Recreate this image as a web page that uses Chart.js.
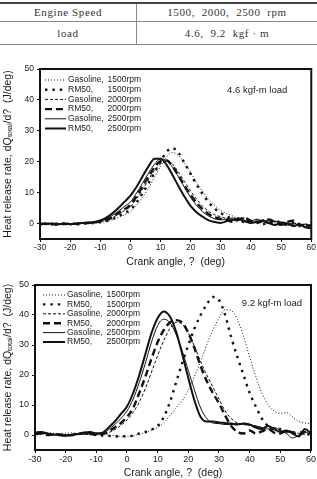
<!DOCTYPE html>
<html>
<head>
<meta charset="utf-8">
<script src="https://cdn.jsdelivr.net/npm/chart.js@4/dist/chart.umd.min.js"></script>
<style>
  body { margin: 0; width: 317px; height: 479px; background: #fff; position: relative; overflow: hidden; }
  table { position: absolute; top: 2px; left: 0; width: 317px; border-collapse: collapse;
          font-family: 'Liberation Serif', 'DejaVu Serif', serif; font-size: 11px; color: #333; letter-spacing: 0.6px; }
  table { border-top: 2px solid #444; }
  td { text-align: center; border-bottom: 1px solid #888; padding: 0; font-weight: normal; }
  td:first-child { width: 136px; border-right: 1px solid #888; }
  .r1 { height: 18px; }
  .r2 { height: 23px; }
  .box { position: absolute; left: 0; }
</style>
</head>
<body>
<table>
  <tr class="r1"><td>Engine Speed</td><td>1500,&nbsp; 2000,&nbsp; 2500&nbsp; rpm</td></tr>
  <tr class="r2"><td>load</td><td>4.6,&nbsp; 9.2&nbsp; kgf · m</td></tr>
</table>
<div class="box" style="top:46px"><canvas id="c1" width="317" height="222"></canvas></div>
<div class="box" style="top:270px"><canvas id="c2" width="317" height="209"></canvas></div>
<script>
// crank angle (deg), same grid for both plots
const angle = [-30, -28, -26, -24, -22, -20, -18, -16, -14, -12, -10, -8, -6, -4, -2, 0, 2, 4, 6, 8, 10, 12, 14, 16, 18, 20, 22, 24, 26, 28, 30, 32, 34, 36, 38, 40, 42, 44, 46, 48, 50, 52, 54, 56, 58, 60];

const seriesNames = ['Gasoline, 1500rpm', 'RM50, 1500rpm', 'Gasoline, 2000rpm', 'RM50, 2000rpm', 'Gasoline, 2500rpm', 'RM50, 2500rpm'];

// 4.6 kgf-m load
const gas1500_46 = [0, -0.1, 0.1, 0, -0.2, 0, 0.1, 0, 0.1, 0.2, 0.4, 0.7, 1.2, 2.0, 2.8, 3.8, 5.8, 8.5, 11.5, 15, 18.5, 21.5, 23, 22, 19.5, 16.5, 13.2, 10.3, 7.8, 5.8, 4.2, 3.2, 2.4, 1.6, 1.9, 1.1, 0.5, 1.2, 0.8, 0.2, 0.5, -0.2, 0.3, -0.5, 0, -0.8];
const rm1500_46 = [-0.3, 0, -0.2, -0.4, 0, -0.2, -0.3, 0, 0, 0.2, 0.4, 0.8, 1.4, 2.4, 3.4, 4.5, 6.8, 9.8, 13, 16.5, 20, 23.2, 24.4, 22.8, 19.5, 16, 12.5, 9.5, 6.8, 4.8, 3.4, 2.3, 1.5, 0.8, 0.5, 1.0, 0.5, -0.2, 0.5, 0.8, 0.2, -0.5, -0.2, -0.8, -0.5, -1.0];
const gas2000_46 = [0, -0.2, 0.1, -0.1, 0, -0.3, 0, 0, 0.2, 0.3, 0.6, 1.0, 1.8, 3.0, 4.2, 5.5, 8, 11, 14.2, 17.2, 19.3, 20.1, 19.2, 16.5, 13.5, 10.5, 7.8, 5.6, 3.9, 2.8, 2.2, 1.6, 1.2, 2.0, 1.5, 0.5, 1.2, 0.8, -0.2, 0.6, 0.2, -0.6, 0.2, -0.4, -1.0, -0.6];
const rm2000_46 = [-0.2, 0, -0.3, 0, -0.2, 0, -0.1, 0.1, 0.2, 0.3, 0.7, 1.2, 2.0, 3.4, 4.6, 6.0, 8.8, 12, 15.2, 18.2, 20.2, 20.4, 18.5, 15.4, 12.2, 9.2, 6.6, 4.6, 3.0, 2.0, 1.5, 1.2, 0.5, 1.3, 1.8, 0.8, 0.2, 0.9, 1.3, 0.4, -0.4, 0.5, 0.9, -0.2, -0.8, -0.5];
const gas2500_46 = [0, -0.1, 0, -0.2, 0.1, -0.1, 0, 0.1, 0.2, 0.4, 0.8, 1.5, 2.6, 4.0, 5.5, 7.0, 9.8, 13, 16.3, 19.2, 20.9, 20.3, 18.2, 15, 11.6, 8.4, 5.8, 3.8, 2.4, 1.5, 1.2, 1.5, 1.8, 1.2, 0.5, 0.8, 1.4, 0.6, 0, 0.8, 0.2, -0.5, 0.3, -0.6, -0.2, -1.0];
const rm2500_46 = [0, -0.2, 0, -0.3, 0, -0.2, 0, 0.2, 0.3, 0.5, 1.0, 1.9, 3.3, 5.0, 7.0, 9.0, 11.8, 15.2, 18.5, 21.0, 21.0, 19.0, 15.6, 12.0, 8.6, 5.6, 3.6, 2.2, 1.0, 0.5, 0.2, 0.8, 1.2, 1.5, 0.8, 0.2, 0.6, 1.0, 0.2, -0.5, 0.3, 0, -0.8, -0.3, -1.2, -1.5];

// 9.2 kgf-m load
const gas1500_92 = [0.8, 0.5, 0.8, 0.6, 0.5, 0.6, 0.7, 0.5, 0.6, 0.4, 0.2, 0.3, 0, -0.2, -0.5, -0.6, -0.3, 0.3, 0.8, 1.5, 2.5, 4, 6.5, 9, 11.5, 15, 19.5, 24.5, 30, 35, 39, 41.8, 41.5, 38.5, 33, 26, 19.5, 14, 10, 8, 7.2, 7.5, 6, 4.5, 4, 3.8];
const rm1500_92 = [0.5, 0.8, 0.3, 0, 0.2, -0.2, 0, 0.3, 0.5, 0.3, 0, -0.2, -0.3, -0.5, -0.3, -0.5, -0.2, 0.5, 1, 1.8, 3, 6, 11, 17.5, 24, 30, 35.5, 40, 43.5, 46, 45, 40, 32.5, 26, 20, 14, 9.5, 5.5, 3, 2, 2, 1.2, 0.5, 1, 0.5, 0];
const gas2000_92 = [0, 0.3, 0.5, 0.2, 0.4, 0, 0.2, 0.5, 0.3, 0.2, 0, 0.2, 0.8, 1.8, 3.2, 5, 7.5, 11, 15.5, 21, 26.5, 31.5, 35.5, 37.5, 37, 34, 29.5, 24.5, 20, 16, 12, 8, 5.5, 4, 3.5, 3.5, 3, 2.5, 2.8, 2.2, 1.5, 0.8, 1.2, 0.5, 0.2, 0.5];
const rm2000_92 = [0.3, 0.5, 0, 0.2, 0, -0.2, 0, 0.3, 0.5, 0.3, 0.2, 0.3, 1.2, 2.5, 4, 6, 9, 14, 19.5, 25.5, 31, 35, 37.5, 38.3, 37.5, 34, 29, 23, 18, 14, 10.5, 6.5, 3, 1, 0.5, 1.5, 0.5, 1.2, 2, 0.8, 0.5, 1.5, 0.8, 0, 1, 0.5];
const gas2500_92 = [0.5, 0.8, 0.3, 0, 0.3, 0, 0.2, 0.5, 0.8, 0.5, 0.3, 0.5, 1.8, 3.5, 5.5, 8, 12, 17.5, 24, 31, 36.5, 38.6, 37.5, 33.5, 28, 21.5, 15, 9, 5.5, 4, 3.8, 3.5, 3.5, 3.8, 3.5, 3.2, 3, 2.5, 2, 2.5, 1.5, 0.5, -1, 0, 1, 0];
const rm2500_92 = [0.8, 1.0, 0.5, 0.2, 0, -0.2, 0, 0.3, 0.8, 1.0, 0.6, 0.8, 2.5, 4.5, 7, 9.5, 14, 20, 27, 34, 39, 41.2, 39.5, 34.5, 27, 19, 11.5, 6, 4.5, 4.5, 4.2, 4, 3.8, 3.5, 3.8, 3.5, 2.5, 2, 3, 2, 1, 1.5, 0.5, -0.5, 2, 0.5];

const xTicks = [-30, -20, -10, 0, 10, 20, 30, 40, 50, 60];
const yTicks = [0, 10, 20, 30, 40, 50];

// line look per series: thin dotted, thick dotted, thin dashed, thick dashed, thin solid, thick solid
const lineWidths = [1, 2.4, 1, 2.4, 1, 2];
const lineDashes = [[1, 2], [2.4, 5], [3, 2], [7, 4], [], []];

const FONT = "'Liberation Sans', Arial, sans-serif";
const INK = '#1a1a1a';

function makeSets(list) {
  return list.map((vals, i) => ({
    label: seriesNames[i],
    data: angle.map((a, k) => ({ x: a, y: vals[k] })),
    borderColor: '#111',
    borderWidth: lineWidths[i],
    borderDash: lineDashes[i],
    pointRadius: 0,
    fill: false,
    cubicInterpolationMode: 'monotone'
  }));
}

// legend + load note drawn inside the plot box
const insideLegend = {
  id: 'insideLegend',
  afterDatasetsDraw(chart, args, o) {
    const { ctx, chartArea } = chart;
    ctx.save();
    ctx.font = o.fontSize + 'px ' + FONT;
    ctx.fillStyle = INK;
    ctx.textBaseline = 'middle';
    chart.data.datasets.forEach((ds, i) => {
      const y = chartArea.top + o.top + i * o.gap;
      const x0 = chartArea.left + o.left;
      ctx.beginPath();
      ctx.lineWidth = ds.borderWidth;
      ctx.setLineDash(ds.borderDash);
      ctx.strokeStyle = ds.borderColor;
      ctx.moveTo(x0, y);
      ctx.lineTo(x0 + o.lineLen, y);
      ctx.stroke();
      const parts = ds.label.split(', ');
      ctx.fillText(parts[0] + ',', x0 + o.lineLen + 2, y);
      ctx.fillText(parts[1], x0 + o.lineLen + 2 + o.rpmCol, y);
    });
    ctx.font = o.noteSize + 'px ' + FONT;
    ctx.textAlign = 'right';
    ctx.fillText(o.note, chartArea.right - o.noteRight, chartArea.top + o.noteTop);
    ctx.restore();
  }
};

// box round the plot
const frame = {
  id: 'frame',
  afterDraw(chart) {
    const { ctx, chartArea: a } = chart;
    ctx.save();
    ctx.strokeStyle = '#111';
    ctx.lineWidth = 2;
    ctx.strokeRect(a.left, a.top, a.right - a.left, a.bottom - a.top);
    ctx.restore();
  }
};

function makeChart(id, list, opt) {
  return new Chart(document.getElementById(id), {
    type: 'line',
    data: { datasets: makeSets(list) },
    plugins: [insideLegend, frame],
    options: {
      responsive: false,
      animation: false,
      layout: { autoPadding: false, padding: { top: opt.padTop, right: 5, left: 0, bottom: 0 } },
      plugins: {
        legend: { display: false },
        tooltip: { enabled: false },
        insideLegend: opt.legend
      },
      scales: {
        x: {
          type: 'linear', min: -30, max: 60,
          afterBuildTicks: s => { s.ticks = xTicks.map(v => ({ value: v })); },
          afterFit: s => { s.height = 29; },
          border: { display: false },
          grid: { drawOnChartArea: false, tickLength: 3, color: '#111', lineWidth: 1 },
          ticks: { padding: 1, color: INK, font: { family: FONT, size: opt.tickSize }, maxRotation: 0 },
          title: { display: true, text: 'Crank angle, ?  (deg)', color: INK, padding: 0,
                   font: { family: FONT, size: 10.5 } }
        },
        y: {
          min: -5, max: 50,
          afterBuildTicks: s => { s.ticks = yTicks.map(v => ({ value: v })); },
          afterFit: s => { s.width = opt.left; },
          border: { display: false },
          grid: { drawOnChartArea: false, tickLength: 3, color: '#111', lineWidth: 1 },
          ticks: { padding: 3, color: INK, font: { family: FONT, size: opt.tickSize } },
          title: { display: true, text: 'Heat release rate, dQₜₒₜₐₗ/d?  (J/deg)', color: INK,
                   padding: { top: 2, bottom: 0 }, font: { family: FONT, size: 10.5 } }
        }
      }
    }
  });
}

makeChart('c1', [gas1500_46, rm1500_46, gas2000_46, rm2000_46, gas2500_46, rm2500_46], {
  padTop: 23, left: 40, tickSize: 8.5,
  legend: { fontSize: 8.5, top: 11, gap: 9.7, left: 5, lineLen: 21, rpmCol: 39.5,
            note: '4.6 kgf-m load', noteSize: 9.5, noteRight: 24, noteTop: 21 }
});

makeChart('c2', [gas1500_92, rm1500_92, gas2000_92, rm2000_92, gas2500_92, rm2500_92], {
  padTop: 15, left: 35, tickSize: 9,
  legend: { fontSize: 8.5, top: 10, gap: 9.4, left: 8, lineLen: 22, rpmCol: 39.5,
            note: '9.2 kgf-m load', noteSize: 9.5, noteRight: 9, noteTop: 18 }
});
</script>
</body>
</html>
